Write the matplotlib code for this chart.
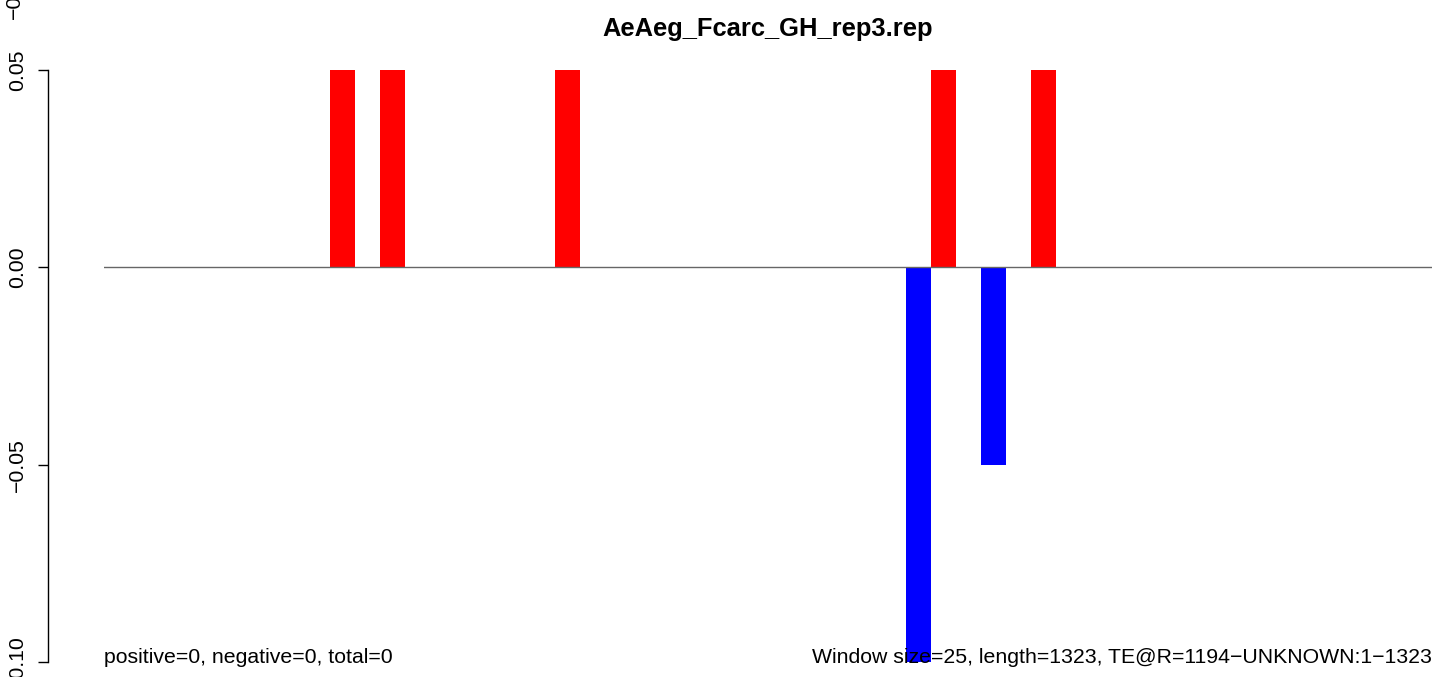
#!/usr/bin/env python
"""
Window bar plot of positive / negative counts along a TE
"""

import matplotlib
matplotlib.use('Agg')
import matplotlib.pyplot as plt

plt.rcParams['font.family'] = ['Liberation Sans', 'DejaVu Sans']

title = 'AeAeg_Fcarc_GH_rep3.rep'
n_windows = 53

# windows (0-based) that have a bar, and the bar value
window_index = [9, 11, 18, 32, 33, 35, 37]
window_value = [0.05, 0.05, 0.05, -0.10, 0.05, -0.05, 0.05]

yticks = [-0.10, -0.05, 0.00, 0.05]
ytick_labels = ['\u22120.10', '\u22120.05', '0.00', '0.05']

left_note = 'positive=0, negative=0, total=0'
right_note = 'Window size=25, length=1323, TE@R=1194\u2212UNKNOWN:1\u22121323'

W, H = 1441, 677
fig = plt.figure(figsize=(W / 100, H / 100), dpi=100)
ax = fig.add_axes([104 / W, 1 - 662 / H, 1328 / W, 592 / H])

colors = ['#FF0000' if v > 0 else '#0000FF' for v in window_value]
ax.bar(window_index, window_value, width=1, align='edge', color=colors, linewidth=0)
ax.axhline(0, color='0.4', linewidth=1.0, zorder=2)

ax.set_xlim(0, n_windows)
ax.set_ylim(-0.10, 0.05)

for s in ['top', 'right', 'bottom']:
    ax.spines[s].set_visible(False)
ax.spines['left'].set_position(('axes', (48 - 104) / 1328))
ax.spines['left'].set_linewidth(1.0)
ax.set_xticks([])
ax.set_yticks(yticks)
ax.set_yticklabels(ytick_labels, rotation=90, va='center')
ax.tick_params(axis='y', length=7.2, width=1.0, pad=8, labelsize=15.3)

fig.text(768 / W, 1 - 36 / H, title, ha='center', va='baseline',
         fontsize=18.4, fontweight='bold')

ax.text(0, -0.002, left_note, transform=ax.transAxes, ha='left',
        va='baseline', fontsize=15.3, zorder=5)
ax.text(1, -0.002, right_note, transform=ax.transAxes, ha='right',
        va='baseline', fontsize=15.3, zorder=5)

# label of the panel above, cut by the top edge
fig.text(14 / W, 1 + 8 / H, '\u22120.10', rotation=90, ha='center',
         va='center', fontsize=15.3)

fig.savefig('out.png', dpi=100)
